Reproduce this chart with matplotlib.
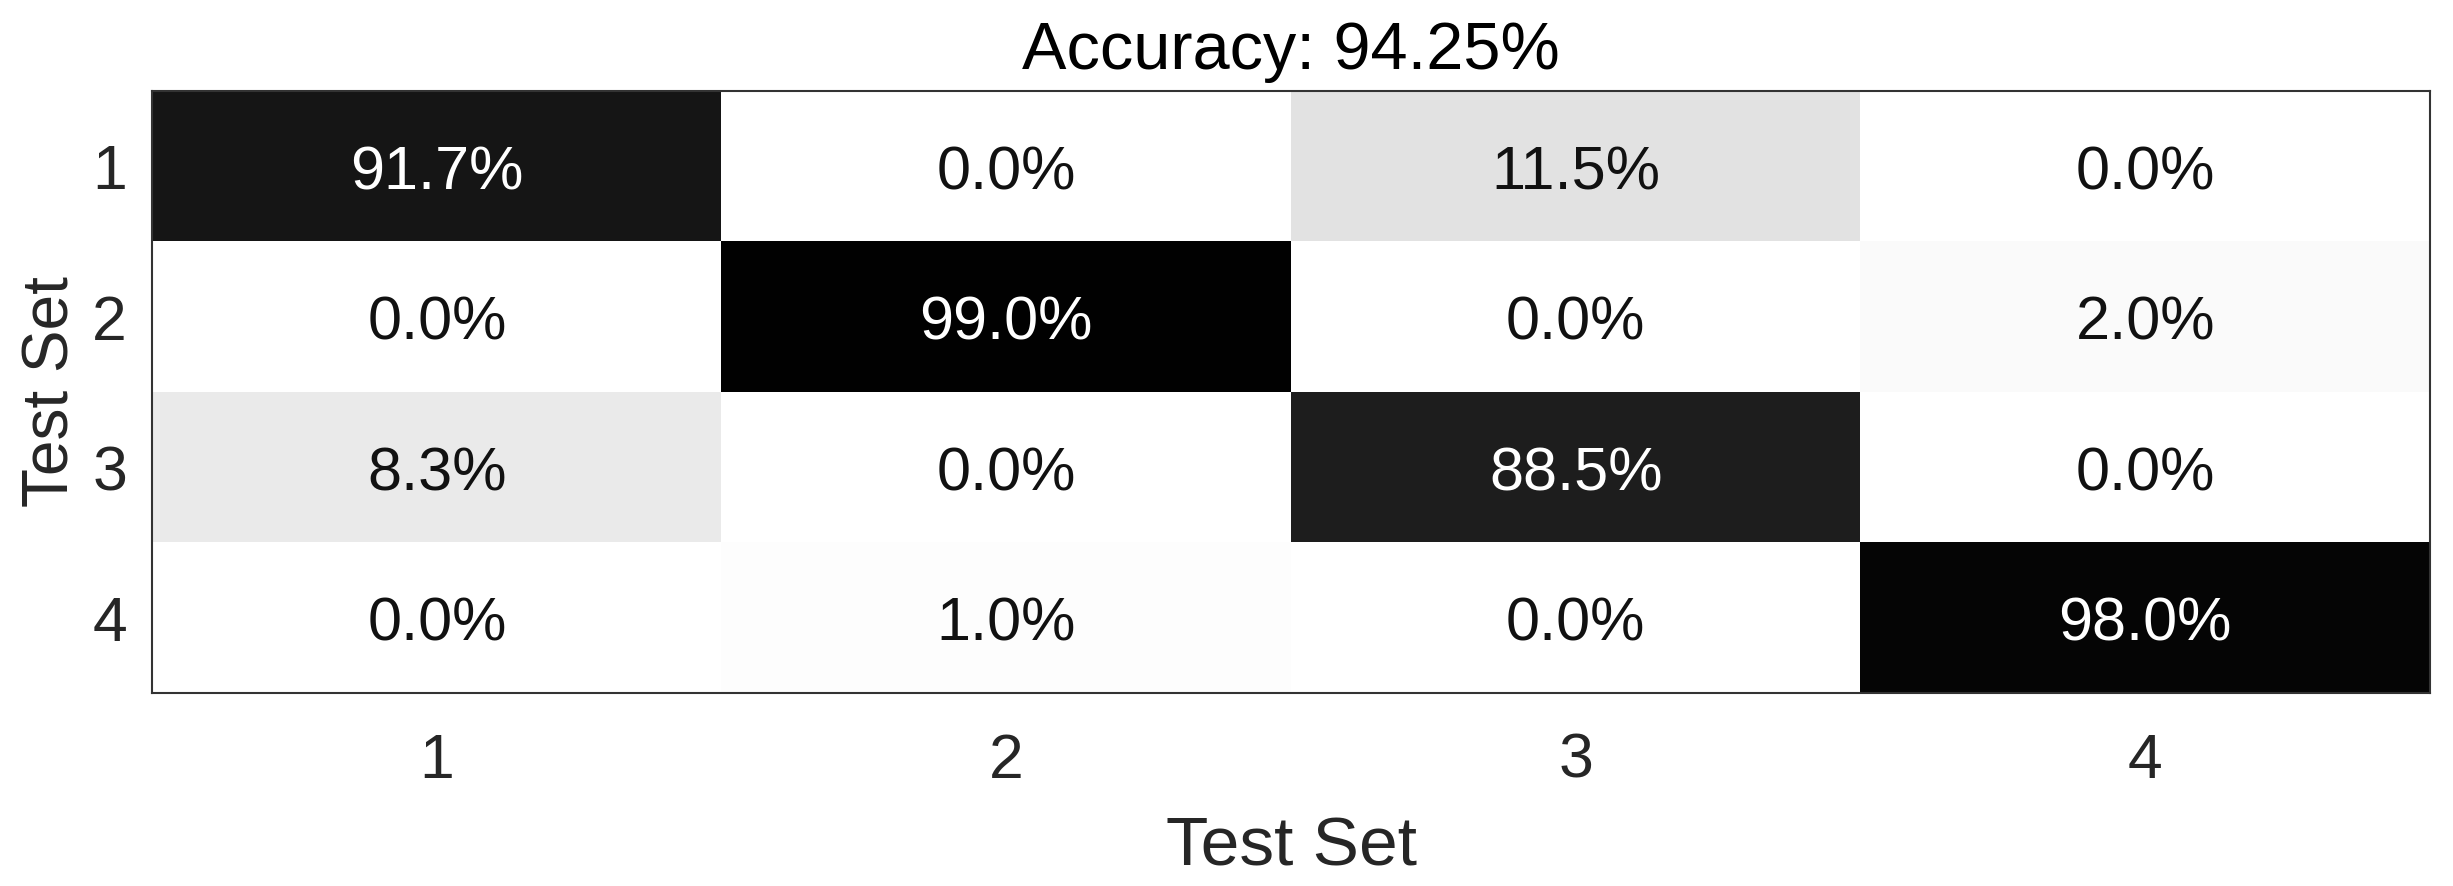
import numpy as np
import matplotlib
matplotlib.use("Agg")
import matplotlib.pyplot as plt

plt.rcParams['font.family'] = ['Liberation Sans', 'DejaVu Sans']

# confusion matrix values (%), rows = y "Test Set", cols = x "Test Set"
labels = ['1', '2', '3', '4']
row1 = [91.7, 0.0, 11.5, 0.0]
row2 = [0.0, 99.0, 0.0, 2.0]
row3 = [8.3, 0.0, 88.5, 0.0]
row4 = [0.0, 1.0, 0.0, 98.0]
accuracy = 94.25

cm = np.array([row1, row2, row3, row4])

fig = plt.figure(figsize=(24.53, 8.86), dpi=100)
ax = fig.add_axes([0.062, 0.218, 0.9286, 0.679])

ax.imshow(cm, cmap='gray_r', vmin=0, vmax=100, aspect='auto')

for i in range(cm.shape[0]):
    for j in range(cm.shape[1]):
        v = cm[i, j]
        color = 'white' if v > 50 else '#111111'
        ax.text(j, i + 0.05, f"{v:.1f}%", ha='center', va='center', fontsize=44, color=color)

ax.set_xticks(range(len(labels)))
ax.set_yticks(range(len(labels)))
ax.set_xticklabels(labels)
ax.set_yticklabels(labels)
ax.tick_params(axis='both', length=0, labelsize=45, labelcolor='#262626')
ax.tick_params(axis='x', pad=28)
ax.tick_params(axis='y', pad=18)

for s in ax.spines.values():
    s.set_color('#333333')
    s.set_linewidth(1.5)

ax.set_xlabel('Test Set', fontsize=50, color='#262626', labelpad=18)
ax.set_ylabel('Test Set', fontsize=46, color='#262626', labelpad=8)
ax.set_title(f'Accuracy: {accuracy:.2f}%', fontsize=48, color='black', pad=16)

fig.savefig('out.png', dpi=100)
plt.close(fig)
